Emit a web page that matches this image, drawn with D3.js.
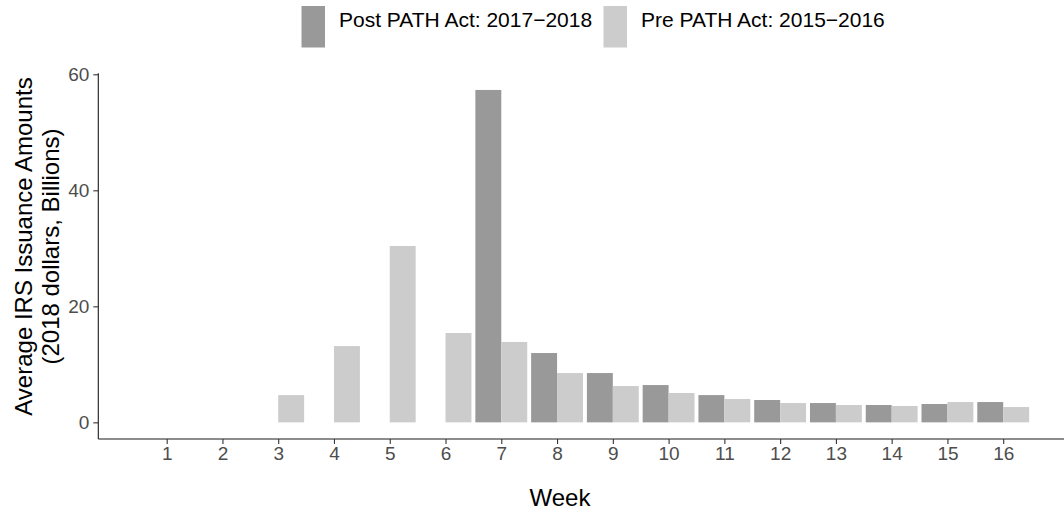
<!DOCTYPE html>
<html>
<head>
<meta charset="utf-8">
<script src="https://cdn.jsdelivr.net/npm/d3@7"></script>
<style>
  html, body { margin: 0; padding: 0; background: #fff; }
  svg { display: block; font-family: "Liberation Sans", Arial, Helvetica, sans-serif; }
</style>
</head>
<body>
<svg id="chart" width="1064" height="514"></svg>
<script>
// Weekly average IRS issuance amounts (2018 dollars, billions)
const weeks = [1, 2, 3, 4, 5, 6, 7, 8, 9, 10, 11, 12, 13, 14, 15, 16];
const postValues = [0, 0, 0, 0, 0, 0, 57.3, 11.95, 8.5, 6.43, 4.7, 3.85, 3.33, 2.99, 3.16, 3.5];
const preValues = [0, 0, 4.7, 13.15, 30.4, 15.4, 13.86, 8.5, 6.26, 5.06, 4.02, 3.33, 2.99, 2.82, 3.5, 2.64];
const seriesNames = ["Post PATH Act: 2017\u22122018", "Pre PATH Act: 2015\u22122016"];
const seriesColors = ["#999999", "#cccccc"];
const yTicks = [0, 20, 40, 60];

const svg = d3.select("#chart");

const panel = { left: 98.3, right: 1064, top: 73.3, bottom: 439 };

// continuous week scale; bars are dodged half-widths either side of each week
const x = d3.scaleLinear().domain([-0.226, 17.09]).range([panel.left, panel.right]);
const y = d3.scaleLinear().domain([-2.87, 60.17]).range([panel.bottom, panel.top]);
const halfW = 0.465;

const rows = weeks.map((w, i) => ({ week: w, post: postValues[i], pre: preValues[i] }));

const bars = svg.append("g");
bars.selectAll("rect.post").data(rows).join("rect")
  .attr("class", "post")
  .attr("x", d => x(d.week - halfW))
  .attr("width", d => x(d.week) - x(d.week - halfW))
  .attr("y", d => y(d.post))
  .attr("height", d => y(0) - y(d.post))
  .attr("fill", seriesColors[0]);
bars.selectAll("rect.pre").data(rows).join("rect")
  .attr("class", "pre")
  .attr("x", d => x(d.week))
  .attr("width", d => x(d.week + halfW) - x(d.week))
  .attr("y", d => y(d.pre))
  .attr("height", d => y(0) - y(d.pre))
  .attr("fill", seriesColors[1]);

// axes
const xAxis = svg.append("g")
  .attr("transform", `translate(0,${panel.bottom})`)
  .call(d3.axisBottom(x).tickValues(weeks).tickSize(5).tickPadding(3).tickFormat(d3.format("d")));
const yAxis = svg.append("g")
  .attr("transform", `translate(${panel.left},0)`)
  .call(d3.axisLeft(y).tickValues(yTicks).tickSize(5).tickPadding(4));

[xAxis, yAxis].forEach(g => {
  g.select(".domain").attr("stroke", "#1a1a1a").attr("stroke-width", 1.1);
  g.selectAll(".tick line").attr("stroke", "#333333").attr("stroke-width", 1.1);
  g.selectAll(".tick text").attr("fill", "#4d4d4d").style("font-size", "19px");
});
yAxis.select(".domain").attr("d", `M0,${panel.top}V${panel.bottom}`);
xAxis.select(".domain").attr("d", `M${panel.left},0H${panel.right}`);

// axis titles
svg.append("text")
  .attr("x", 560)
  .attr("y", 506)
  .attr("text-anchor", "middle")
  .style("font-size", "24px")
  .attr("fill", "#000")
  .text("Week");

const yTitle = svg.append("text")
  .attr("transform", "translate(0,246.5) rotate(-90)")
  .attr("text-anchor", "middle")
  .style("font-size", "24px")
  .attr("fill", "#000");
yTitle.append("tspan").attr("x", 0).attr("y", 32).text("Average IRS Issuance Amounts");
yTitle.append("tspan").attr("x", 0).attr("y", 59).text("(2018 dollars, Billions)");

// legend
const legendX = [301.5, 603.5];
const legend = svg.append("g");
seriesNames.forEach((name, i) => {
  const g = legend.append("g").attr("transform", `translate(${legendX[i]},0)`);
  g.append("rect").attr("x", 0).attr("y", 6).attr("width", 23.5).attr("height", 41.5).attr("fill", seriesColors[i]);
  g.append("text").attr("x", 37.5).attr("y", 27).style("font-size", "21px").attr("fill", "#000").text(name);
});
</script>
</body>
</html>
